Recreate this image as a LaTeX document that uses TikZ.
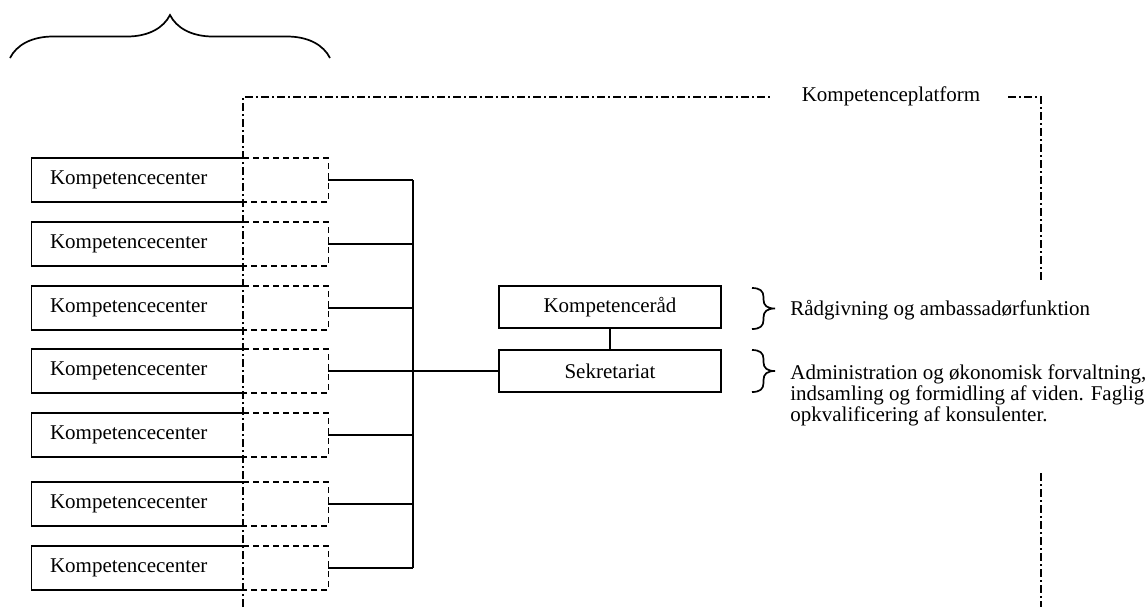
\documentclass[tikz,border=0pt]{standalone}
\usepackage{fontspec}
\setmainfont{Liberation Serif}
\usetikzlibrary{decorations.pathreplacing}

\begin{document}
\begin{tikzpicture}[x=0.5pt, y=-0.5pt, font=\fontsize{10.5}{10.5}\selectfont,
  wire/.style={line width=0.85pt},
  platline/.style={line width=0.55pt, dash pattern=on 4pt off 1.5pt on 1pt off 1.5pt},
  halfbox/.style={line width=0.7pt, dash pattern=on 3pt off 2pt},
  centerbox/.style={inner xsep=9pt, inner ysep=0pt, text width=87.5pt, minimum height=21.5pt, align=left},
  midbox/.style={draw, line width=0.85pt, minimum width=111pt, minimum height=21pt, inner sep=0pt}]
  \useasboundingbox (0,0) rectangle (1146,607);

  % top brace
  \draw[wire, decorate, decoration={brace, amplitude=21.5pt}] (10,58) -- (330,58);

  % platform frame, open where the texts are
  \node[anchor=base] (plat) at (891,101) {Kompetenceplatform};
  \draw[platline] (243,607) -- (243,97) -- (773,97);
  \draw[platline] (1008,97) -- (1041,97) -- (1041,282);
  \draw[platline] (1041,473) -- (1041,607);

  % the seven centres, half inside the platform
  \coordinate (bus) at (413,0);
  \foreach \i/\y in {1/180,2/244,3/308,4/371,5/435,6/504,7/568} {
    \node[centerbox] (cc\i) at (137.5,\y) {Kompetencecenter};
    \coordinate (r\i) at ([xshift=42.5pt]cc\i.east);
    \draw[wire] (cc\i.north east) -- (cc\i.north west) -- (cc\i.south west) -- (cc\i.south east);
    \draw[halfbox] (cc\i.north east) -| (r\i) |- (cc\i.south east);
    \draw[wire] (r\i) -- (r\i -| bus);
  }
  \draw[wire] (r1 -| bus) -- (r7 -| bus);

  % council and secretariat
  \node[midbox] (rad) at (610,307) {Kompetenceråd};
  \node[midbox] (sek) at (610,371) {Sekretariat};
  \draw[wire] (rad) -- (sek);
  \draw[wire] (r4 -| bus) -- (sek.west);

  % small braces
  \foreach \t/\m/\b in {288/308.5/329, 350/371/392}
    \draw[wire] (752,\t) .. controls (760,\t) and (763.5,\t+3) .. (763.5,\t+9)
      -- (763.5,\m-9) .. controls (763.5,\m-3) and (767,\m) .. (775,\m)
      .. controls (767,\m) and (763.5,\m+3) .. (763.5,\m+9)
      -- (763.5,\b-9) .. controls (763.5,\b-3) and (760,\b) .. (752,\b);

  \node[anchor=base west, inner sep=0pt] (radtxt) at (790,315) {Rådgivning og ambassadørfunktion};
  \node[anchor=north west, inner sep=0pt, align=left] (sektxt) at (790,364)
    {Administration og økonomisk forvaltning,\\indsamling og formidling af viden. Faglig\\opkvalificering af konsulenter.};
\end{tikzpicture}
\end{document}
